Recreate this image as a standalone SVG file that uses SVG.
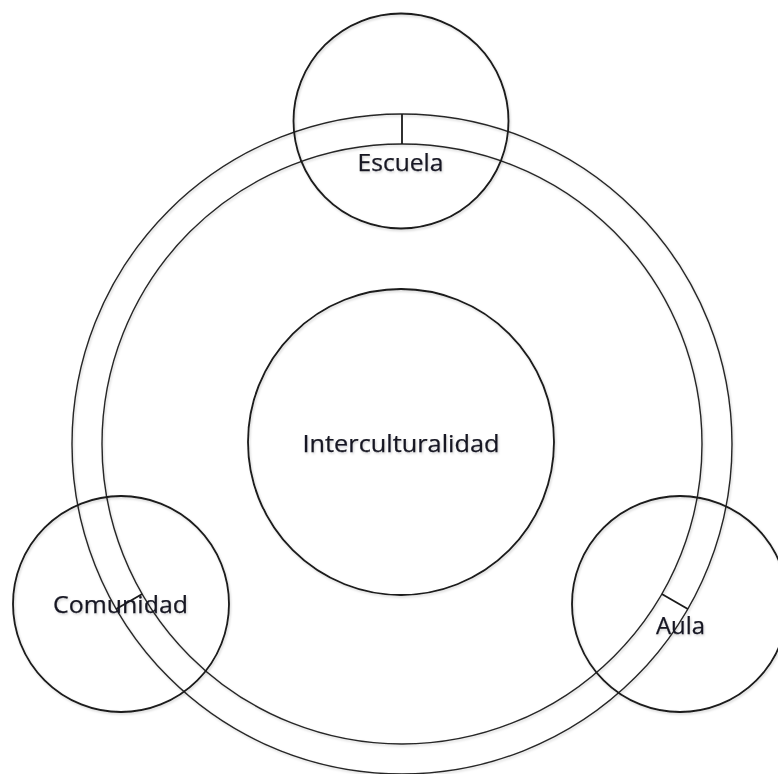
<svg xmlns="http://www.w3.org/2000/svg" width="778" height="774" viewBox="0 0 778 774">
<style>
.c{fill:none;stroke:#1a1a1a;stroke-width:1.8}
.r{fill:none;stroke:#262626;stroke-width:1.4}
.s{stroke:#1a1a1a;stroke-width:1.8}
.t{font-family:"Open Sans","Noto Sans","Liberation Sans",sans-serif;fill:#181824;text-anchor:middle;stroke:#181824;stroke-width:0.25}
</style>
<defs>
<filter id="sh" x="-5%" y="-5%" width="110%" height="110%">
<feDropShadow dx="1" dy="1.5" stdDeviation="1" flood-color="#000" flood-opacity="0.18"/>
</filter>
</defs>
<rect width="778" height="774" fill="#ffffff"/>
<g id="ring" filter="url(#sh)">
<circle class="r" cx="402" cy="444" r="330"/>
<circle class="r" cx="402" cy="444" r="300"/>
</g>
<g id="connectors">
<line class="s" x1="402" y1="114" x2="402" y2="144"/>
<line class="s" x1="661.8" y1="594" x2="687.8" y2="609"/>
<line class="s" x1="142.2" y1="594" x2="116.2" y2="609"/>
</g>
<g id="interculturalidad" filter="url(#sh)">
<circle class="c" cx="401" cy="442" r="153"/>
<text class="t" x="401" y="452" font-size="24" textLength="197" lengthAdjust="spacingAndGlyphs">Interculturalidad</text>
</g>
<g id="escuela" filter="url(#sh)">
<circle class="c" cx="401" cy="121" r="107.5"/>
<text class="t" x="400.5" y="171" font-size="23" textLength="86" lengthAdjust="spacingAndGlyphs">Escuela</text>
</g>
<g id="aula" filter="url(#sh)">
<circle class="c" cx="680" cy="604" r="108"/>
<text class="t" x="680.5" y="634" font-size="23" textLength="49" lengthAdjust="spacingAndGlyphs">Aula</text>
</g>
<g id="comunidad" filter="url(#sh)">
<circle class="c" cx="121" cy="604" r="108"/>
<text class="t" x="120.5" y="613" font-size="23" textLength="135" lengthAdjust="spacingAndGlyphs">Comunidad</text>
</g>
</svg>
